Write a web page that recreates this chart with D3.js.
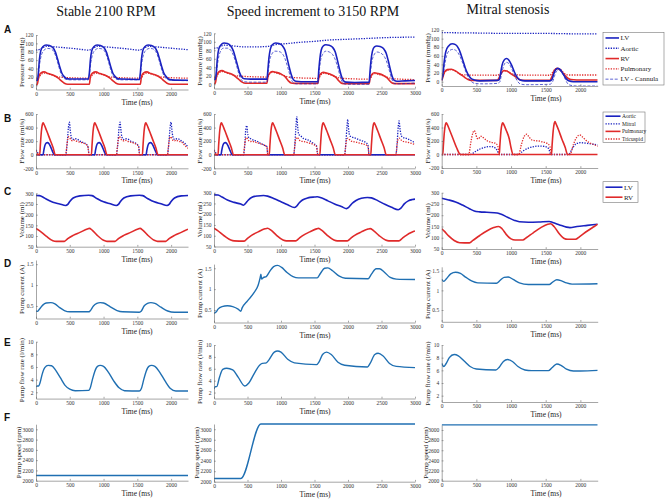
<!DOCTYPE html>
<html><head><meta charset="utf-8">
<script src="https://cdn.jsdelivr.net/npm/d3@7"></script>
<style>body{margin:0;background:#fff} svg{display:block}</style>
</head><body><script>
// ---------------- DATA ----------------
const columnTitles = ["Stable 2100 RPM", "Speed increment to 3150 RPM", "Mitral stenosis"];
const rowLetters = ["A","B","C","D","E","F"];
const yLabels = ["Pressure (mmHg)","Flow rate (ml/s)","Volume (ml)","Pump current (A)","Pump flow rate (l/min)","Pump speed (rpm)"];
const xLabel = "Time (ms)";
const xTicksShort = [0,500,1000,1500,2000];
const xTicksLong = [0,500,1000,1500,2000,2500,3000];
const yTicksA = [0,20,40,60,80,100,120];
const yTicksB = [-200,0,200,400,600];
const yTicksC = [50,100,150,200,250,300];
const yTicksD = [0.5,1,1.5];
const yTicksE = [2,4,6,8,10];
const yTicksF = [2000,2200,2400,2600,2800,3000];
const legendA = ["LV","Aortic","RV","Pulmonary","LV - Cannula"];
const legendB = ["Aortic","Mitral","Pulmonary","Tricuspid"];
const legendC = ["LV","RV"];

// A: pressures (mmHg) [time ms, value]
const a1_LV = [[0,12],[20,12],[35,30],[50,60],[70,82],[100,92],[150,96],[200,95],[250,90],[290,78],[320,62],[350,45],[380,30],[410,22],[450,16],[500,15],[775,15],[790,30],[805,60],[825,82],[855,92],[905,96],[955,95],[1005,90],[1045,78],[1075,62],[1105,45],[1135,30],[1165,22],[1205,16],[1255,15],[1530,14],[1545,30],[1560,60],[1580,82],[1610,92],[1660,96],[1710,95],[1760,90],[1800,78],[1830,62],[1860,45],[1890,30],[1920,22],[1960,15],[2010,13],[2250,12]];
const a1_Can = [[0,11],[20,11],[38,28],[55,52],[80,72],[120,84],[170,88],[220,87],[265,80],[300,66],[335,46],[370,28],[405,18],[450,14],[500,13],[775,13],[793,28],[810,52],[835,72],[875,84],[925,88],[975,87],[1020,80],[1055,66],[1090,46],[1125,28],[1160,18],[1205,14],[1255,13],[1530,13],[1548,28],[1565,52],[1590,72],[1630,84],[1680,88],[1730,87],[1775,80],[1810,66],[1845,46],[1880,28],[1915,18],[1960,13],[2010,12],[2250,11]];
const a1_Aortic = [[0,85],[20,84],[60,86],[100,90],[150,93],[250,92],[400,90],[600,87],[775,84],[820,86],[860,90],[905,93],[1000,92],[1150,90],[1350,87],[1530,84],[1570,86],[1610,90],[1660,93],[1750,92],[1900,90],[2100,87],[2250,85]];
const a1_RV = [[0,1],[20,3],[40,20],[70,29],[120,32],[180,28],[260,24],[330,17],[380,10],[420,5],[470,2.5],[790,2.5],[805,20],[835,29],[885,32],[945,28],[1025,24],[1095,17],[1145,10],[1185,5],[1235,2.5],[1545,2.5],[1560,20],[1590,29],[1640,32],[1700,28],[1780,24],[1850,17],[1900,10],[1940,5],[1990,2.5],[2250,2.5]];
const a1_Pulm = [[0,16],[20,15],[45,19],[75,26],[125,29],[185,27],[265,23],[330,20],[400,19],[790,17],[810,19],[840,26],[890,29],[950,27],[1030,23],[1095,20],[1160,19],[1545,17],[1565,19],[1595,26],[1645,29],[1705,27],[1785,23],[1850,20],[1915,19],[2250,17]];

const a2_LV = [[0,12],[20,12],[35,30],[50,60],[70,82],[100,92],[150,97],[200,96],[250,90],[290,78],[320,62],[350,45],[380,28],[410,18],[450,13],[550,12],[790,12],[805,35],[820,62],[840,82],[870,93],[920,97],[970,96],[1020,91],[1060,80],[1090,62],[1120,42],[1150,24],[1180,12],[1220,7],[1300,6],[1550,6],[1565,35],[1580,60],[1600,80],[1630,90],[1670,93],[1720,92],[1770,87],[1810,76],[1840,58],[1870,38],[1900,20],[1930,9],[1970,5],[2100,4],[2315,5],[2330,33],[2345,58],[2365,78],[2395,88],[2430,90],[2480,89],[2530,84],[2570,73],[2600,56],[2630,36],[2660,18],[2690,9],[2730,7],[2850,8],[3000,9]];
const a2_Can = [[0,10],[20,10],[40,30],[60,55],[90,75],[140,85],[200,85],[250,80],[290,68],[330,48],[370,25],[410,10],[450,6],[550,5],[790,5],[810,30],[830,55],[860,70],[910,78],[970,77],[1020,72],[1060,60],[1100,40],[1140,18],[1180,4],[1230,1],[1550,1],[1570,30],[1590,55],[1620,70],[1670,78],[1720,76],[1770,70],[1810,58],[1850,38],[1890,15],[1930,2],[1980,0],[2315,0],[2335,28],[2355,52],[2385,68],[2430,76],[2480,74],[2530,68],[2570,56],[2610,36],[2650,14],[2690,2],[2740,1],[3000,3]];
const a2_Aortic = [[0,85],[60,86],[150,92],[300,90],[450,88],[600,88],[790,89],[900,93],[1100,96],[1300,99],[1500,101],[1700,104],[2000,106],[2300,108],[2600,110],[3000,111]];
const a2_RV = [[0,1],[20,3],[40,20],[70,29],[120,32],[180,28],[260,24],[330,17],[380,10],[420,5],[470,2.5],[790,2.5],[805,18],[830,26],[870,30],[930,28],[1000,24],[1060,18],[1110,8],[1150,3],[1200,2],[1550,2],[1565,16],[1590,24],[1630,28],[1690,26],[1760,22],[1820,16],[1870,7],[1910,2],[1960,1.5],[2315,1.5],[2330,15],[2355,23],[2395,27],[2455,25],[2525,21],[2585,15],[2635,6],[2675,2],[2720,1.5],[3000,1.5]];
const a2_Pulm = [[0,17],[20,16],[45,20],[75,27],[125,30],[185,27],[265,23],[330,20],[400,19],[790,17],[810,19],[840,26],[880,28],[940,26],[1020,22],[1090,18],[1160,16],[1550,14],[1570,16],[1600,23],[1640,26],[1700,24],[1780,20],[1850,16],[1910,14],[2315,12],[2335,14],[2365,22],[2405,25],[2465,23],[2545,19],[2615,15],[2680,13],[3000,11]];

const a3_LV = [[0,4],[15,15],[35,45],[60,70],[100,83],[150,88],[200,86],[250,75],[300,52],[340,32],[380,17],[420,8],[470,4],[550,2],[800,3],[830,5],[850,20],[870,38],[900,50],[935,54],[970,50],[1010,38],[1050,22],[1090,10],[1130,4],[1200,2],[1560,2],[1590,5],[1610,15],[1640,27],[1675,31],[1710,28],[1750,18],[1790,8],[1830,2],[1900,0],[2250,0]];
const a3_Can = [[0,2],[20,12],[40,35],[70,60],[110,72],[160,75],[210,72],[260,60],[310,40],[350,22],[390,8],[430,0],[480,-4],[600,-5],[800,-4],[840,0],[860,15],[890,35],[930,45],[970,42],[1010,30],[1050,14],[1090,2],[1130,-5],[1200,-7],[1560,-6],[1600,0],[1625,12],[1655,24],[1690,27],[1730,22],[1770,10],[1810,-3],[1850,-8],[1950,-10],[2250,-10]];
const a3_Aortic = [[0,114],[500,113],[1000,112],[1500,112],[2000,111],[2250,111]];
const a3_RV = [[0,3],[15,10],[40,22],[80,28],[140,29],[200,25],[260,18],[300,14],[340,9],[380,5],[430,3],[800,3],[830,10],[860,20],[900,26],[940,25],[1000,18],[1060,12],[1100,7],[1140,4],[1200,3],[1560,3],[1590,12],[1620,24],[1660,31],[1700,29],[1740,22],[1780,14],[1820,8],[1860,5],[1950,4],[2250,4]];
const a3_Pulm = [[0,15],[20,16],[45,22],[90,27],[140,28],[200,24],[260,18],[300,16],[400,15.5],[800,15],[840,18],[880,24],[930,25],[990,20],[1050,16],[1150,15.5],[1560,15],[1600,22],[1640,29],[1690,30],[1740,24],[1790,17],[1850,15.5],[2250,15.5]];

// B: valve flow rates (ml/s)
const b1_Aortic = [[0,0],[105,0],[115,60],[130,130],[150,170],[170,178],[190,165],[215,120],[240,60],[260,15],[270,0],[870,0],[880,60],[895,130],[915,170],[935,178],[955,165],[980,120],[1005,60],[1025,15],[1035,0],[1630,0],[1640,60],[1655,130],[1675,170],[1695,178],[1715,165],[1740,120],[1765,60],[1785,15],[1795,0],[2250,0]];
const b1_Mitral = [[0,70],[20,40],[40,0],[440,0],[460,150],[480,400],[495,480],[505,380],[520,270],[545,225],[580,235],[610,230],[650,200],[700,180],[750,150],[770,120],[785,0],[1190,0],[1210,150],[1230,400],[1245,480],[1255,380],[1270,270],[1295,225],[1330,235],[1360,230],[1400,200],[1450,180],[1500,150],[1520,120],[1535,0],[1945,0],[1965,150],[1985,400],[2000,480],[2010,380],[2025,270],[2050,225],[2085,235],[2115,230],[2155,200],[2200,170],[2250,115]];
const b1_Pulm = [[0,0],[55,0],[65,150],[80,350],[95,450],[105,470],[115,455],[155,360],[205,230],[255,100],[285,0],[820,0],[830,150],[845,350],[860,450],[870,470],[880,455],[920,360],[970,230],[1020,100],[1050,0],[1575,0],[1585,150],[1600,350],[1615,450],[1625,470],[1635,455],[1675,360],[1725,230],[1775,100],[1805,0],[2250,0]];
const b1_Tric = [[0,60],[20,30],[40,0],[440,0],[455,120],[470,230],[485,265],[500,250],[520,215],[545,205],[570,215],[600,200],[650,185],[700,170],[750,145],[770,110],[785,0],[1190,0],[1205,120],[1220,230],[1235,265],[1250,250],[1270,215],[1295,205],[1320,215],[1350,200],[1400,185],[1450,170],[1500,145],[1520,110],[1535,0],[1945,0],[1960,120],[1975,230],[1990,265],[2005,250],[2025,215],[2050,205],[2075,215],[2105,200],[2155,185],[2200,140],[2250,95]];

const b2_Aortic = [[0,0],[105,0],[115,60],[130,130],[150,170],[170,178],[190,165],[215,120],[240,60],[260,15],[270,0],[3000,0]];
const b2_Mitral = [[0,70],[20,40],[40,0],[440,0],[460,150],[475,380],[490,430],[500,330],[515,260],[540,240],[590,215],[640,200],[700,165],[740,145],[790,120],[803,0],[1190,0],[1210,200],[1225,450],[1236,560],[1248,420],[1265,300],[1285,285],[1335,240],[1410,215],[1484,165],[1530,130],[1549,0],[1950,0],[1970,200],[1985,420],[1996,520],[2008,390],[2025,280],[2050,265],[2120,240],[2180,215],[2280,170],[2300,130],[2314,0],[2715,0],[2735,200],[2750,420],[2762,500],[2775,390],[2790,300],[2810,260],[2870,240],[2940,210],[3000,175]];
const b2_Pulm = [[0,0],[60,0],[70,150],[85,350],[100,450],[110,470],[120,455],[160,360],[210,230],[260,100],[290,0],[825,0],[835,150],[850,350],[865,450],[875,470],[885,455],[925,360],[975,230],[1025,100],[1055,0],[1580,0],[1590,150],[1605,350],[1620,450],[1630,470],[1640,455],[1680,360],[1730,230],[1780,100],[1810,0],[2340,0],[2350,150],[2365,350],[2380,450],[2390,470],[2400,455],[2440,360],[2490,230],[2540,100],[2570,0],[3000,0]];
const b2_Tric = [[0,60],[20,30],[40,0],[440,0],[455,120],[470,230],[485,250],[500,235],[520,205],[545,195],[570,200],[600,190],[650,175],[700,160],[750,140],[790,110],[803,0],[1190,0],[1205,120],[1220,230],[1240,255],[1260,235],[1285,205],[1320,195],[1360,190],[1410,175],[1484,150],[1530,120],[1549,0],[1950,0],[1965,120],[1980,225],[2000,245],[2020,225],[2050,200],[2090,190],[2140,180],[2200,165],[2280,140],[2300,110],[2314,0],[2715,0],[2730,120],[2745,225],[2765,245],[2785,225],[2815,200],[2860,190],[2920,175],[3000,150]];

const b3_Mitral = [[0,0],[410,0],[480,40],[560,85],[640,110],[700,118],[750,110],[800,60],[830,0],[1100,0],[1170,50],[1250,95],[1330,118],[1400,125],[1480,120],[1540,90],[1575,0],[1830,0],[1880,80],[1940,160],[2000,175],[2100,165],[2200,150],[2250,140]];
const b3_Pulm = [[0,0],[15,0],[25,150],[40,350],[55,450],[65,470],[75,455],[115,360],[165,230],[215,100],[270,0],[830,0],[840,150],[855,350],[870,450],[880,470],[890,455],[930,360],[975,230],[1000,100],[1029,0],[1583,0],[1593,150],[1608,350],[1623,460],[1633,490],[1643,470],[1683,370],[1733,230],[1783,100],[1814,0],[2250,0]];
const b3_Tric = [[0,0],[390,0],[420,180],[450,320],[470,355],[490,310],[510,240],[530,230],[555,265],[575,270],[610,240],[660,200],[720,180],[780,165],[810,120],[830,0],[1110,0],[1150,150],[1190,270],[1225,300],[1260,260],[1300,215],[1350,205],[1400,200],[1460,185],[1520,165],[1560,120],[1583,0],[1850,0],[1900,150],[1950,260],[1990,290],[2030,260],[2080,210],[2130,175],[2200,145],[2250,120]];

// C: ventricular volumes (ml)
const c1_LV = [[0,290],[50,289],[100,283],[150,273],[250,258],[350,250],[440,243],[470,248],[500,262],[550,278],[650,288],[780,291],[830,289],[900,276],[1000,260],[1100,251],[1190,243],[1220,248],[1250,262],[1300,278],[1400,288],[1530,291],[1580,289],[1650,276],[1750,260],[1850,251],[1940,243],[1970,248],[2000,262],[2050,278],[2150,288],[2250,290]];
const c1_RV = [[0,135],[50,125],[150,100],[250,78],[300,75],[420,75],[470,88],[550,103],[650,117],[760,133],[790,136],[830,128],[900,105],[1000,80],[1050,75],[1170,75],[1220,88],[1300,103],[1400,117],[1510,133],[1540,136],[1580,128],[1650,105],[1750,80],[1800,75],[1920,75],[1970,88],[2050,103],[2150,117],[2250,132]];
const c2_LV = [[0,290],[60,289],[120,280],[200,266],[300,255],[400,247],[440,242],[470,250],[510,265],[560,278],[650,285],[740,287],[800,284],[900,272],[1000,258],[1100,244],[1200,231],[1230,236],[1270,252],[1320,266],[1400,276],[1500,280],[1540,281],[1600,276],[1700,262],[1800,248],[1900,236],[1980,226],[2010,232],[2060,250],[2120,264],[2200,274],[2290,278],[2350,276],[2450,262],[2550,246],[2650,232],[2750,221],[2790,228],[2840,248],[2900,262],[2960,268],[3000,270]];
const c2_RV = [[0,135],[50,125],[150,100],[250,80],[300,76],[450,75],[500,88],[560,102],[660,118],[760,132],[800,135],[850,126],[930,103],[1030,80],[1080,76],[1220,76],[1270,88],[1330,102],[1430,118],[1530,132],[1560,134],[1610,125],[1690,102],[1790,80],[1840,76],[1990,76],[2040,88],[2100,102],[2200,118],[2300,131],[2330,133],[2380,124],[2460,102],[2560,80],[2610,76],[2760,76],[2810,88],[2870,102],[2960,117],[3000,122]];
const c3_LV = [[0,275],[100,268],[200,259],[300,245],[400,229],[470,219],[550,215],[650,213],[800,210],[850,205],[950,191],[1050,177],[1120,171],[1250,169],[1400,170],[1550,172],[1600,168],[1700,157],[1800,147],[1850,145],[1950,150],[2100,155],[2250,160]];
const c3_RV = [[0,140],[40,128],[100,108],[180,88],[260,78],[400,77],[450,88],[550,110],[650,130],[750,145],[820,150],[870,140],[930,115],[1000,95],[1060,90],[1170,90],[1220,100],[1320,122],[1430,145],[1530,160],[1570,162],[1620,150],[1690,120],[1760,98],[1820,93],[1930,93],[1990,105],[2100,130],[2200,150],[2250,160]];

// D: pump current (A)
const d1_Current = [[0,0.38],[20,0.37],[50,0.42],[100,0.52],[150,0.57],[220,0.58],[280,0.55],[350,0.46],[420,0.39],[500,0.36],[780,0.36],[800,0.38],[850,0.50],[900,0.56],[950,0.58],[1000,0.57],[1100,0.48],[1200,0.39],[1280,0.36],[1530,0.35],[1560,0.38],[1600,0.50],[1650,0.56],[1700,0.58],[1760,0.56],[1850,0.47],[1950,0.38],[2050,0.35],[2250,0.35]];
const d2_Current = [[0,0.42],[30,0.45],[60,0.52],[120,0.58],[200,0.6],[280,0.58],[360,0.52],[400,0.47],[420,0.55],[500,0.72],[600,0.92],[660,1.1],[690,1.28],[700,1.36],[710,1.24],[740,1.28],[780,1.3],[830,1.42],[890,1.54],[950,1.57],[1010,1.52],[1090,1.40],[1180,1.30],[1260,1.27],[1540,1.27],[1590,1.38],[1650,1.50],[1700,1.51],[1770,1.44],[1870,1.31],[1960,1.26],[2300,1.25],[2350,1.36],[2420,1.49],[2470,1.49],[2540,1.41],[2630,1.28],[2720,1.24],[3000,1.23]];
const d3_Current = [[0,1.28],[30,1.23],[70,1.3],[130,1.42],[200,1.46],[270,1.43],[350,1.33],[430,1.24],[520,1.19],[790,1.18],[840,1.25],[900,1.33],[960,1.34],[1030,1.28],[1120,1.19],[1250,1.15],[1550,1.15],[1600,1.21],[1660,1.27],[1720,1.25],[1800,1.19],[1880,1.16],[2250,1.17]];

// E: pump flow rate (l/min)
const e1_Flow = [[0,2.9],[20,3.0],[40,3.0],[60,3.5],[90,4.8],[130,5.9],[180,6.25],[230,6.2],[290,5.5],[360,4.3],[430,3.1],[500,2.5],[580,2.25],[780,2.3],[800,2.6],[830,3.8],[870,5.3],[910,6.1],[950,6.25],[1000,6.1],[1070,5.2],[1150,3.8],[1230,2.7],[1310,2.25],[1530,2.2],[1560,2.6],[1590,3.8],[1630,5.3],[1670,6.1],[1710,6.25],[1760,6.1],[1830,5.2],[1910,3.8],[1990,2.6],[2070,2.2],[2250,2.2]];
const e2_Flow = [[0,2.6],[20,3.0],[40,3.0],[80,4.5],[130,5.9],[190,6.1],[280,5.8],[360,4.6],[460,3.1],[520,3.6],[600,5.2],[680,6.6],[720,6.9],[780,7.0],[820,7.5],[900,8.8],[950,9.0],[1000,8.8],[1100,7.6],[1200,7.0],[1530,6.7],[1570,7.2],[1620,8.4],[1680,8.8],[1750,8.4],[1850,7.1],[1950,6.6],[2290,6.3],[2330,6.9],[2400,8.4],[2450,8.6],[2520,8.2],[2620,6.9],[2720,6.4],[3000,6.2]];
const e3_Flow = [[0,7.1],[30,6.6],[60,7.0],[110,8.0],[180,8.5],[240,8.3],[320,7.5],[410,6.6],[500,6.2],[780,6.05],[830,6.5],[890,7.4],[950,7.7],[1020,7.4],[1100,6.6],[1200,6.05],[1300,5.95],[1540,5.95],[1590,6.4],[1660,7.0],[1720,6.8],[1800,6.2],[1900,5.9],[2000,5.9],[2250,6.0]];

// F: pump speed (rpm)
const f1_Speed = [[0,2100],[2250,2100]];
const f2_Speed = [[0,2060],[400,2060],[700,3100],[3000,3100]];
const f3_Speed = [[0,3100],[2250,3100]];

// ---------------- LAYOUT / STYLE ----------------
const W = 669, H = 500;
const SERIF = "'Liberation Serif','Times New Roman',serif";
const BLUE = "#1a22c0", RED = "#e02a2a", PUMP = "#1f6fb2";
const cols = [
  {x0:36, x1:188, xmax:2250, xticks:xTicksShort, xlabX:137, ylabX:22, ylabXF:18.5, titleX:106},
  {x0:214, x1:415, xmax:3000, xticks:xTicksLong, xlabX:315, ylabX:200, ylabXF:196.5, titleX:313},
  {x0:441.7, x1:597.7, xmax:2250, xticks:xTicksShort, xlabX:546, ylabX:428, ylabXF:426, titleX:508}
];
const rows = [
  {dom:[-10,120], ticks:yTicksA, y:[[35,89.5],[33.3,88.5],[30,86]], letterY:32.7},
  {dom:[-200,600], ticks:yTicksB, y:[[114,168.3],[114,168.3],[114,168]], letterY:121.7},
  {dom:[50,300], ticks:yTicksC, y:[[193.3,246.7],[192.7,246.5],[192.7,249]], letterY:195},
  {dom:[0.2,1.6], ticks:yTicksD, y:[[260,318.5],[264.1,322.5],[266.8,321.8]], letterY:266.7},
  {dom:[1,10], ticks:yTicksE, y:[[341.7,398.6],[345,398.5],[345,402]], letterY:345.7},
  {dom:[2000,3100], ticks:yTicksF, y:[[424.2,480.7],[424,481.7],[424.9,480.7]], letterY:421}
];
const solid = (data,color,w)=>({data,color,w:w||1.6,dash:null});
const dotted = (data,color)=>({data,color,w:1.3,dash:"1.3,1.3"});
const dashed = (data,color)=>({data,color,w:0.7,dash:"3,1.6"});
const seriesGrid = [
  [ [dotted(a1_Aortic,BLUE),dotted(a1_Pulm,RED),solid(a1_RV,RED),dashed(a1_Can,BLUE),solid(a1_LV,BLUE)],
    [dotted(a2_Aortic,BLUE),dotted(a2_Pulm,RED),solid(a2_RV,RED),dashed(a2_Can,BLUE),solid(a2_LV,BLUE)],
    [dotted(a3_Aortic,BLUE),dotted(a3_Pulm,RED),solid(a3_RV,RED),dashed(a3_Can,BLUE),solid(a3_LV,BLUE)] ],
  [ [dotted(b1_Mitral,BLUE),dotted(b1_Tric,RED),solid(b1_Aortic,BLUE),solid(b1_Pulm,RED)],
    [dotted(b2_Mitral,BLUE),dotted(b2_Tric,RED),solid(b2_Aortic,BLUE),solid(b2_Pulm,RED)],
    [dotted(b3_Mitral,BLUE),dotted(b3_Tric,RED),solid(b3_Pulm,RED)] ],
  [ [solid(c1_LV,BLUE),solid(c1_RV,RED)], [solid(c2_LV,BLUE),solid(c2_RV,RED)], [solid(c3_LV,BLUE),solid(c3_RV,RED)] ],
  [ [solid(d1_Current,PUMP,1.4)], [solid(d2_Current,PUMP,1.4)], [solid(d3_Current,PUMP,1.4)] ],
  [ [solid(e1_Flow,PUMP,1.4)], [solid(e2_Flow,PUMP,1.4)], [solid(e3_Flow,PUMP,1.4)] ],
  [ [solid(f1_Speed,PUMP,1.4)], [solid(f2_Speed,PUMP,1.4)], [solid(f3_Speed,PUMP,1.4)] ]
];

const svg = d3.select("body").append("svg").attr("width",W).attr("height",H).style("background","#fff");

columnTitles.forEach((t,i)=>{
  svg.append("text").attr("x",cols[i].titleX).attr("y",i===2?13.5:15.5).attr("text-anchor","middle")
    .style("font-family",SERIF).style("font-size","14px").attr("fill","#111").text(t);
});
rows.forEach((r,i)=>{
  svg.append("text").attr("x",4).attr("y",r.letterY).style("font-family","'Liberation Sans',Arial,sans-serif")
    .style("font-weight","bold").style("font-size","10px").attr("fill","#111").text(rowLetters[i]);
});

const fmt = d=>String(d);
rows.forEach((r,ri)=>{
  cols.forEach((c,ci)=>{
    const [yt,yb] = r.y[ci];
    const x = d3.scaleLinear().domain([0,c.xmax]).range([c.x0,c.x1]);
    const y = d3.scaleLinear().domain(r.dom).range([yb,yt]);
    const g = svg.append("g");
    const clipId = `clip${ri}${ci}`;
    svg.append("clipPath").attr("id",clipId).append("rect").attr("x",c.x0).attr("y",yt-2).attr("width",c.x1-c.x0).attr("height",yb-yt+2);
    const line = d3.line().x(d=>x(d[0])).y(d=>y(d[1])).curve(d3.curveMonotoneX);
    const lg = g.append("g").attr("clip-path",`url(#${clipId})`);
    seriesGrid[ri][ci].forEach(s=>{
      lg.append("path").datum(s.data).attr("d",line).attr("fill","none").attr("stroke",s.color)
        .attr("stroke-width",s.w).attr("stroke-dasharray",s.dash).attr("stroke-linejoin","round");
    });
    const xa = g.append("g").attr("transform",`translate(0,${yb})`)
      .call(d3.axisBottom(x).tickValues(c.xticks).tickFormat(fmt).tickSizeInner(-1.8).tickSizeOuter(0).tickPadding(2.5));
    const ya = g.append("g").attr("transform",`translate(${c.x0},0)`)
      .call(d3.axisLeft(y).tickValues(r.ticks).tickFormat(fmt).tickSizeInner(-1.8).tickSizeOuter(0).tickPadding(2.5));
    [xa,ya].forEach(a=>{
      a.selectAll("path,line").attr("stroke","#6a6a6a").attr("stroke-width",0.6);
      a.selectAll("text").style("font-family",SERIF).style("font-size","5.5px").attr("fill","#333");
    });
    g.append("text").attr("x",c.xlabX).attr("y",yb+15).attr("text-anchor","middle")
      .style("font-family",SERIF).style("font-size","7.5px").attr("fill","#222").text(xLabel);
    const lx = ri===5 ? c.ylabXF : c.ylabX;
    g.append("text").attr("transform",`translate(${lx},${(yt+yb)/2}) rotate(-90)`).attr("text-anchor","middle")
      .attr("dy","0.35em").style("font-family",SERIF).style("font-size","7px").attr("fill","#222").text(yLabels[ri]);
  });
});

function legend(x,y,w,h,items,styles,step,fs,len){
  const g = svg.append("g");
  g.append("rect").attr("x",x).attr("y",y).attr("width",w).attr("height",h).attr("fill","#fff").attr("stroke","#777").attr("stroke-width",0.6);
  items.forEach((t,i)=>{
    const yy = y+step*0.55+i*step;
    const s = styles[i];
    g.append("line").attr("x1",x+2.5).attr("x2",x+2.5+len).attr("y1",yy).attr("y2",yy).attr("stroke",s.color)
      .attr("stroke-width",s.w).attr("stroke-dasharray",s.dash);
    g.append("text").attr("x",x+4+len).attr("y",yy).attr("dy","0.33em").style("font-family",SERIF).style("font-size",fs+"px").attr("fill","#222").text(t);
  });
}
legend(603,32.3,61,52.7,legendA,[solid(null,BLUE),dotted(null,BLUE),solid(null,RED),dotted(null,RED),dashed(null,BLUE)],10.3,7,13.5);
legend(603,112,42,30.5,legendB,[solid(null,BLUE),dotted(null,BLUE),solid(null,RED),dotted(null,RED)],7.6,5.5,15);
legend(603,181.7,35,20.6,legendC,[solid(null,BLUE),solid(null,RED)],10,7,17);
</script></body></html>
